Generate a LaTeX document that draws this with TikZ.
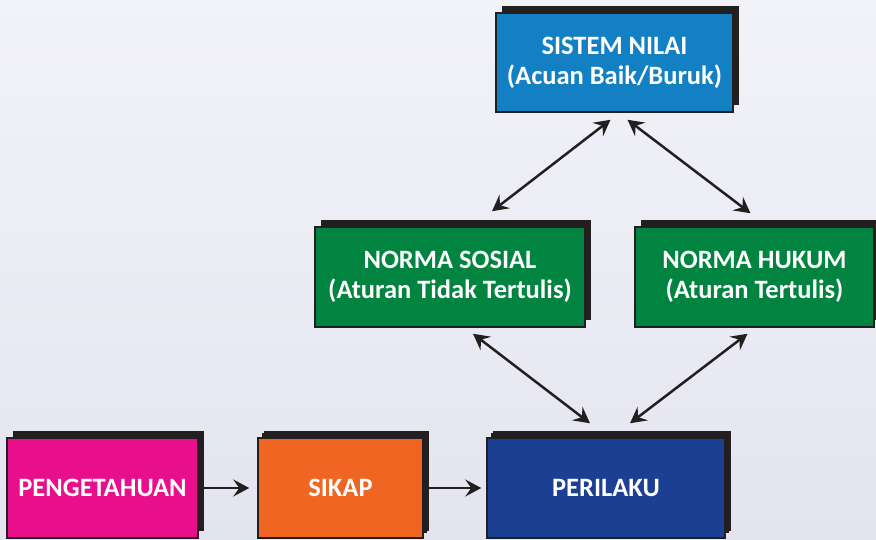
\documentclass[tikz,border=0pt]{standalone}
\usepackage{fontspec}
\setmainfont{Carlito}
\usetikzlibrary{arrows.meta}
\usetikzlibrary{shadows}
\definecolor{dark}{HTML}{231F20}
\definecolor{bgtop}{HTML}{F2F3F8}
\definecolor{bgbot}{HTML}{E4E4F0}
\definecolor{nilaiblue}{HTML}{1380C3}
\definecolor{normagreen}{HTML}{00843F}
\definecolor{tahupink}{HTML}{E90E8B}
\definecolor{sikaporange}{HTML}{F06522}
\definecolor{lakunavy}{HTML}{1B3F93}
\tikzstyle{block}=[draw=dark, line width=1.5pt, text=white, align=center, inner sep=0pt,
  font=\fontsize{26.5}{30}\selectfont\bfseries, minimum height=99pt,
  general shadow={fill=dark, shadow xshift=6pt, shadow yshift=7pt}]
\tikzstyle{lblock}=[block, general shadow={fill=dark, shadow xshift=4pt, shadow yshift=5pt}]
\tikzstyle{link}=[line width=2.5pt, draw=dark]

\begin{document}
\begin{tikzpicture}[x=1pt, y=-1pt, >={Stealth[length=16pt, width=17pt, inset=6pt]}]
        \useasboundingbox (0, 0) rectangle (876, 539);
        \shade[top color=bgtop, bottom color=bgbot] (0, 0) rectangle (876, 539);
        % top row
        \node[block, fill=nilaiblue, minimum width=237pt] (nilai) at (614.5, 62.5) {SISTEM NILAI\\(Acuan Baik/Buruk)};
        % middle row
        \node[block, fill=normagreen, minimum width=270pt, minimum height=100pt] (sosial) at (450, 277) {NORMA SOSIAL\\(Aturan Tidak Tertulis)};
        \node[block, fill=normagreen, minimum width=239pt, minimum height=100pt] (hukum) at (754.5, 277) {NORMA HUKUM\\(Aturan Tertulis)};
        % bottom row
        \node[block, fill=tahupink, minimum width=191pt, minimum height=100pt] (tahu) at (102.5, 488) {PENGETAHUAN};
        \node[lblock, fill=sikaporange, minimum width=165pt, minimum height=100pt] (sikap) at (340.5, 488) {SIKAP};
        \node[lblock, fill=lakunavy, minimum width=238pt, minimum height=100pt] (laku) at (606, 488) {PERILAKU};
        % connectors
        \draw[link, <->] ([shift={(-4, 7)}]nilai.south) -- ([shift={(42, -15)}]sosial.north);
        \draw[link, <->] ([shift={(13, 7)}]nilai.south) -- ([shift={(-4, -13)}]hukum.north);
        \draw[link, <->] ([shift={(23, 6)}]sosial.south) -- ([shift={(-16, -14)}]laku.north);
        \draw[link, <->] ([shift={(-7, 6)}]hukum.south) -- ([shift={(24, -14)}]laku.north);
        \draw[link, ->, shorten >=8pt] (tahu.east) -- (sikap.west);
        \draw[link, ->, shorten >=5pt] (sikap.east) -- (laku.west);
    \end{tikzpicture}
\end{document}
